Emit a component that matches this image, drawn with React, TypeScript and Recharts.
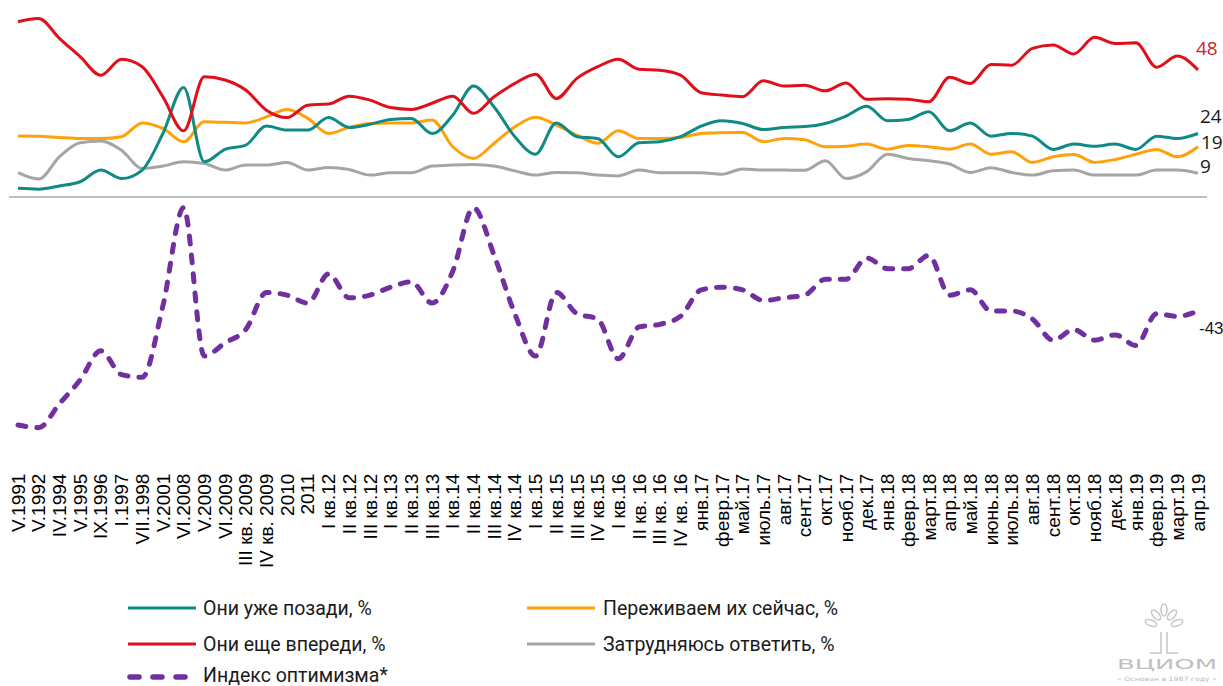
import React from 'react';
import { LineChart, Line, XAxis, YAxis, ReferenceLine, LabelList } from 'recharts';

const categories = [
  'V.1991', 'V.1992', 'IV.1994', 'V.1995', 'IX.1996', 'I.1997', 'VII.1998', 'V.2001', 'VI.2008', 'V.2009',
  'VI.2009', 'III кв. 2009', 'IV кв. 2009', '2010', '2011', 'I кв.12', 'II кв.12', 'III кв.12', 'I кв.13', 'II кв.13',
  'III кв.13', 'I кв.14', 'II кв.14', 'III кв.14', 'IV кв.14', 'I кв.15', 'II кв.15', 'III кв.15', 'IV кв.15', 'I кв.16',
  'II кв. 16', 'III кв. 16', 'IV кв. 16', 'янв.17', 'февр.17', 'май.17', 'июль.17', 'авг.17', 'сент.17', 'окт.17',
  'нояб.17', 'дек.17', 'янв.18', 'февр.18', 'март.18', 'апр.18', 'май.18', 'июнь.18', 'июль.18', 'авг.18',
  'сент.18', 'окт.18', 'нояб.18', 'дек.18', 'янв.19', 'февр.19', 'март.19', 'апр.19',
];

// Они уже позади, %
const behind = [
  3.3, 3, 4.2, 5.8, 10.2, 7, 10.2, 24, 41.4, 13.3,
  18, 19.6, 26.8, 25.3, 25.3, 30, 26.3, 27.5, 29.3, 29.7,
  24, 30.9, 41.9, 34, 22.8, 16.2, 28, 22.8, 22.1, 15.2,
  20.5, 20.9, 22.8, 26.8, 28.8, 27.8, 25.5, 26.3, 26.6, 27.8,
  30.6, 34.3, 28.8, 29.3, 32.2, 25, 28, 23, 24, 23,
  18, 20, 19.2, 20, 18, 23, 22.1, 24,
];

// Они еще впереди, %
const ahead = [
  66.2, 67.4, 59.9, 53, 46, 52, 49.2, 37.8, 25, 45.4,
  44.2, 40.4, 32.8, 30, 34.7, 35.1, 38.1, 36.6, 33.8, 33.1,
  35.4, 38.1, 31.6, 37.9, 42.9, 46.4, 37.2, 44.8, 49.2, 52,
  48.2, 47.9, 46, 39.4, 38.5, 37.9, 43.9, 41.9, 42.2, 40.1,
  43.1, 36.9, 37.1, 36.9, 36, 45.2, 42.9, 50, 49.8, 56.1,
  57.4, 54, 60.3, 58, 58.2, 49, 53.2, 48,
];

// Переживаем их сейчас, %
const now = [
  23.1, 23, 22.5, 22.1, 22.1, 22.8, 28, 25.9, 20.9, 28.4,
  28.2, 28, 30.3, 33.1, 29.7, 24, 26.3, 27.8, 28, 28,
  29.1, 19, 14.6, 20.3, 26.5, 30.1, 27.2, 23.4, 20.3, 25,
  22.1, 22.1, 22.5, 24, 24.3, 24.4, 20.9, 22.1, 21.6, 19,
  19.2, 20, 18.1, 19.5, 19, 18.1, 20, 16.2, 17.1, 13.1,
  15.2, 16.1, 13.1, 14.2, 16.2, 18, 15.2, 19,
];

// Затрудняюсь ответить, %
const unsure = [
  9.2, 6.8, 15.2, 20.5, 21.2, 17.7, 10.8, 11.7, 13.3, 12.7,
  10.2, 12.1, 12.1, 13.1, 10.2, 11.2, 10.4, 8.3, 9.2, 9.2,
  11.7, 12.1, 12.3, 11.7, 9.9, 8.3, 9.3, 9.2, 8.3, 8,
  10.2, 9.2, 9.2, 9.2, 8.6, 10.6, 10.2, 10.2, 10.1, 13.7,
  7, 9.6, 16.2, 14.6, 13.7, 12.5, 9.3, 11.1, 9.3, 8.3,
  9.9, 10.2, 8.3, 8.3, 8.3, 10.2, 10.2, 9,
];

// Индекс оптимизма*
const optimism = [
  -86, -87, -78, -69, -58, -67, -68, -41, -4, -60,
  -55, -50, -36, -37, -40, -29, -38, -37, -34, -32,
  -40, -28, -4, -22, -44, -60, -36, -44, -46, -61,
  -49, -48, -45, -35, -34, -35, -39, -38, -37, -31,
  -31, -23, -27, -27, -22, -37, -35, -43, -43, -46,
  -54, -50, -54, -52, -56, -44, -45, -43,
];

const COLORS = {
  behind: '#0F8A84',
  ahead: '#E0101A',
  now: '#FFA10A',
  unsure: '#A5A5A5',
  optimism: '#7030A0',
};

const data = categories.map((cat, i) => ({
  cat,
  behind: behind[i],
  ahead: ahead[i],
  now: now[i],
  unsure: unsure[i],
  optimism: optimism[i],
}));

const LAST = categories.length - 1;

const makeEndLabel = (color: string, dx: number, dy: number, size: number, family: string) => (props: any) => {
  const { x, y, index, value } = props;
  if (index !== LAST) return null;
  return (
    <text x={Number(x) + dx} y={Number(y) + dy} fill={color} fontSize={size} fontFamily={family}>
      {value}
    </text>
  );
};

const XTick = (props: any) => {
  const { x, y, payload } = props;
  const ty = Number(y) + 38;
  return (
    <text
      x={x}
      y={ty}
      transform={`rotate(-90 ${x} ${ty})`}
      textAnchor="end"
      dy="0.35em"
      fontSize={19}
      fontFamily="'Liberation Sans', Arial, sans-serif"
      fill="#000"
    >
      {payload.value}
    </text>
  );
};

const legendFont = "'Roboto', sans-serif";

export default function App() {
  return (
    <div style={{ position: 'absolute', left: 0, top: 0, width: 1223, height: 686, background: '#fff' }}>
      <LineChart width={1223} height={590} data={data} margin={{ top: 1, right: 16, left: 9, bottom: 0 }}>
        <XAxis
          dataKey="cat"
          interval={0}
          tick={<XTick />}
          height={154.4}
          axisLine={false}
          tickLine={false}
          tickSize={0}
          tickMargin={0}
          padding={{ left: 9, right: 9 }}
        />
        <YAxis hide type="number" domain={[-90, 74]} allowDataOverflow />
        <ReferenceLine y={0} stroke="#BFBFBF" strokeWidth={2} />
        <Line type="monotone" dataKey="unsure" stroke={COLORS.unsure} strokeWidth={3} dot={false} isAnimationActive={false}>
          <LabelList dataKey="unsure" content={makeEndLabel('#1a1a1a', 2, 0, 19, "'Open Sans', sans-serif")} />
        </Line>
        <Line type="monotone" dataKey="now" stroke={COLORS.now} strokeWidth={3} dot={false} isAnimationActive={false}>
          <LabelList dataKey="now" content={makeEndLabel('#1a1a1a', 3, 2, 19, "'Open Sans', sans-serif")} />
        </Line>
        <Line type="monotone" dataKey="behind" stroke={COLORS.behind} strokeWidth={3} dot={false} isAnimationActive={false}>
          <LabelList dataKey="behind" content={makeEndLabel('#1a1a1a', 2, -11, 19, "'Open Sans', sans-serif")} />
        </Line>
        <Line type="monotone" dataKey="ahead" stroke={COLORS.ahead} strokeWidth={3} dot={false} isAnimationActive={false}>
          <LabelList dataKey="ahead" content={makeEndLabel('#D0202A', -2, -15, 19, "'Open Sans', sans-serif")} />
        </Line>
        <Line
          type="monotone"
          dataKey="optimism"
          stroke={COLORS.optimism}
          strokeWidth={5}
          strokeDasharray="8 11"
          strokeLinecap="round"
          dot={false}
          isAnimationActive={false}
        >
          <LabelList dataKey="optimism" content={makeEndLabel('#1a1a1a', 1, 23, 17, "'Liberation Sans', Arial, sans-serif")} />
        </Line>
      </LineChart>

      <svg width={1223} height={96} style={{ position: 'absolute', left: 0, top: 590 }}>
        <g fontFamily={legendFont} fontSize={19.5} fill="#1a1a1a">
          <line x1={128} x2={196} y1={18} y2={18} stroke={COLORS.behind} strokeWidth={3} />
          <text x={203} y={24.5}>Они уже позади, %</text>
          <line x1={527} x2={595} y1={18} y2={18} stroke={COLORS.now} strokeWidth={3} />
          <text x={603} y={24.5}>Переживаем их сейчас, %</text>
          <line x1={128} x2={196} y1={54} y2={54} stroke={COLORS.ahead} strokeWidth={3} />
          <text x={203} y={60.5}>Они еще впереди, %</text>
          <line x1={527} x2={595} y1={54} y2={54} stroke={COLORS.unsure} strokeWidth={3} />
          <text x={603} y={60.5}>Затрудняюсь ответить, %</text>
          <line
            x1={130}
            x2={194}
            y1={87}
            y2={87}
            stroke={COLORS.optimism}
            strokeWidth={5.5}
            strokeDasharray="9 14"
            strokeLinecap="round"
          />
          <text x={203} y={92}>Индекс оптимизма*</text>
        </g>
        <g stroke="#C8C8C8" strokeWidth={1.6} fill="none">
          <ellipse cx={1164} cy={20} rx={3} ry={6} />
          <ellipse cx={1156} cy={25} rx={3} ry={6} transform="rotate(-40 1156 25)" />
          <ellipse cx={1172} cy={25} rx={3} ry={6} transform="rotate(40 1172 25)" />
          <ellipse cx={1151} cy={33} rx={3} ry={6} transform="rotate(-70 1151 33)" />
          <ellipse cx={1177} cy={33} rx={3} ry={6} transform="rotate(70 1177 33)" />
          <path d="M1161 42 V63 H1150" />
          <path d="M1167 42 V63 H1178" />
        </g>
        <text x={1117} y={79} fontSize={14} fill="#C0C0C0" fontFamily="'DejaVu Sans', sans-serif" textLength={100} lengthAdjust="spacingAndGlyphs">
          ВЦИОМ
        </text>
        <text x={1117} y={91} fontSize={6} fill="#B8B8B8" fontFamily="'DejaVu Sans', sans-serif" textLength={100} lengthAdjust="spacingAndGlyphs">
          « Основан в 1987 году »
        </text>
      </svg>
    </div>
  );
}
